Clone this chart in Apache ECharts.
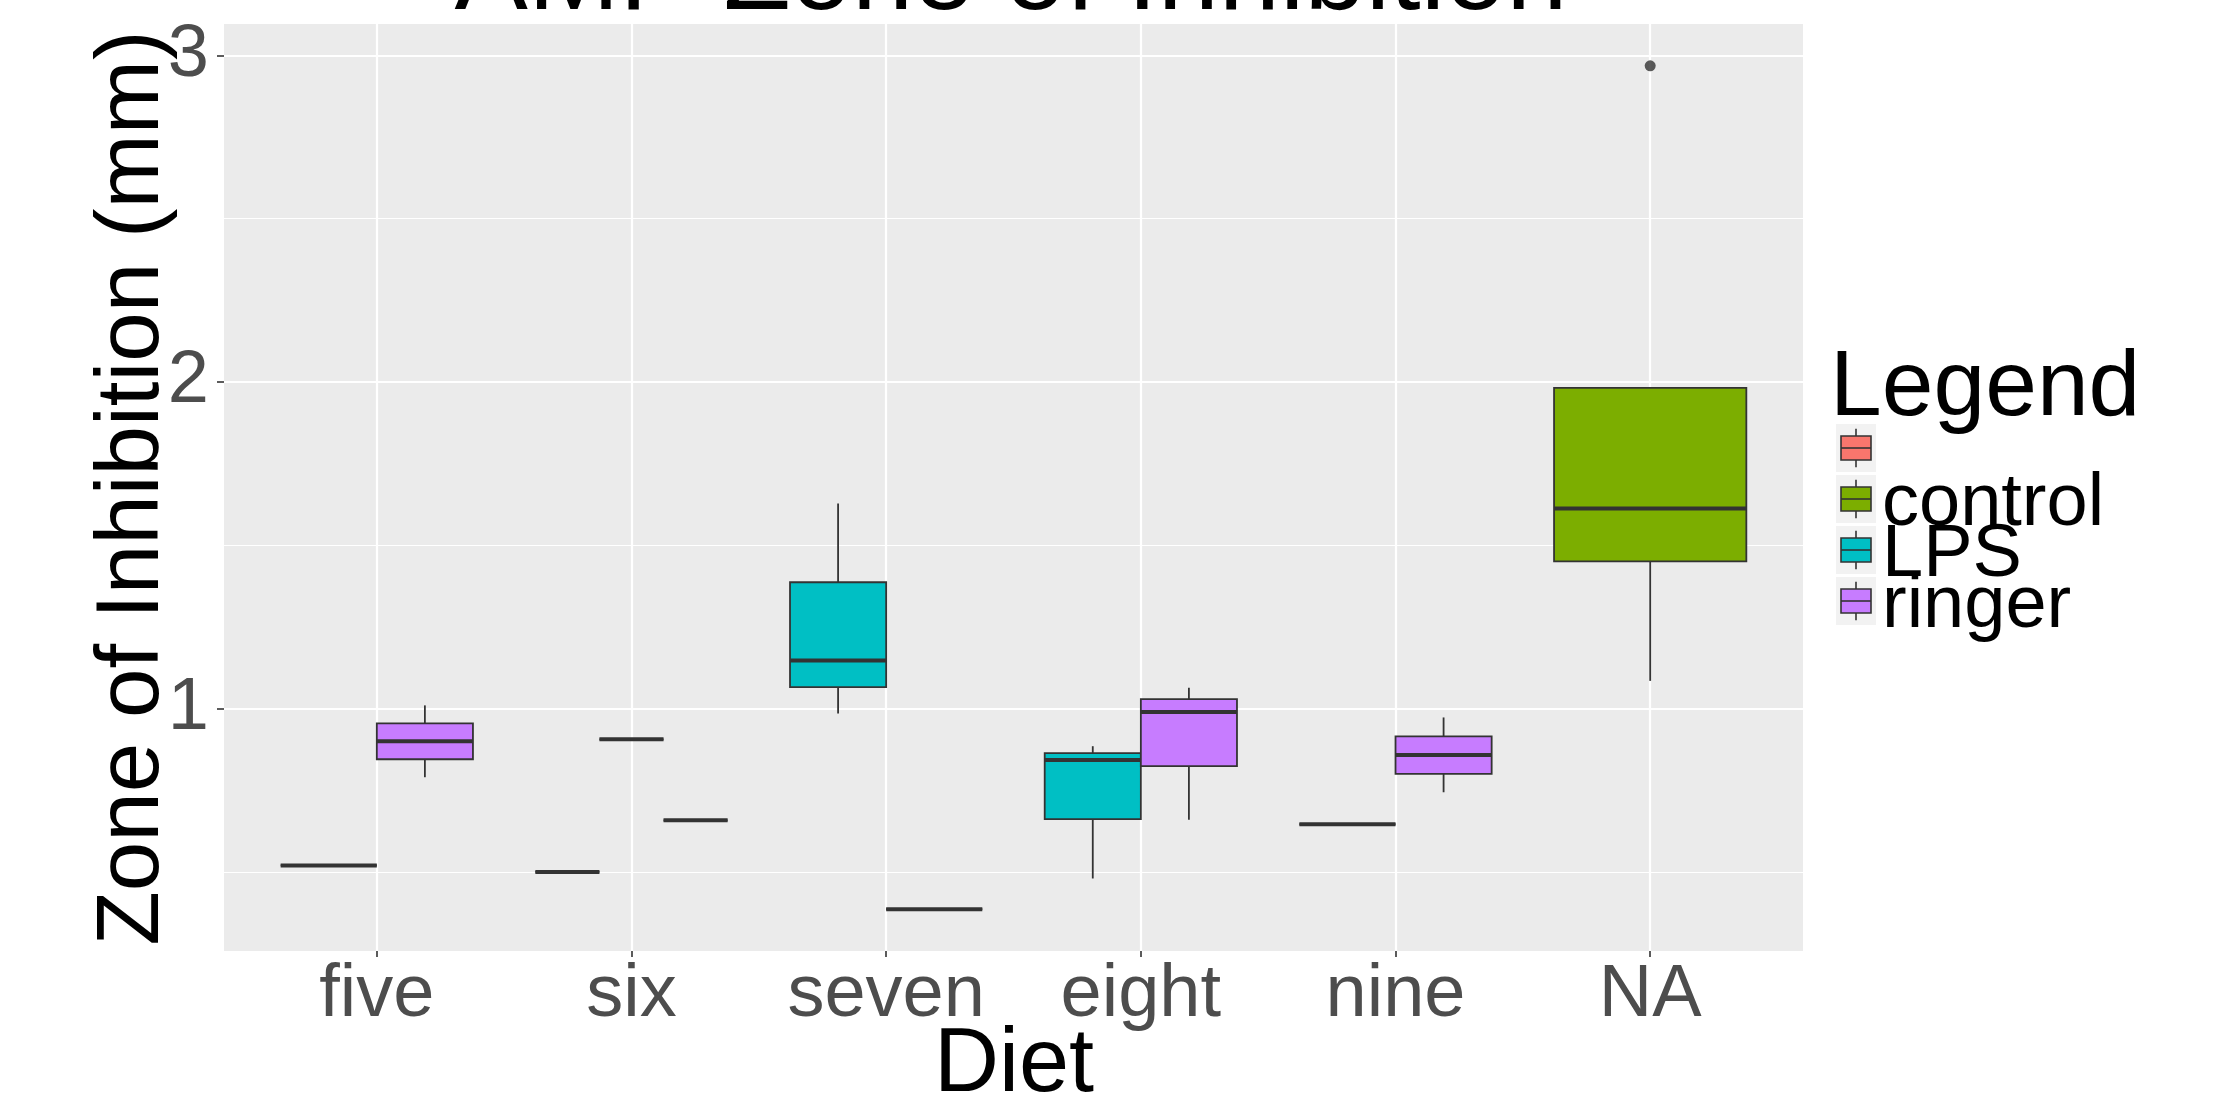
<!DOCTYPE html>
<html>
<head>
<meta charset="utf-8">
<title>AMP Zone of Inhibition</title>
<script src="https://cdn.jsdelivr.net/npm/echarts@6/dist/echarts.min.js"></script>
<style>
  html, body { margin: 0; padding: 0; background: #ffffff; }
  #chart { width: 2218px; height: 1097px; }
</style>
</head>
<body>
<div id="chart"></div>
<script>
// Diet categories on the x axis and treatment groups (fill legend)
const diets = ['five', 'six', 'seven', 'eight', 'nine', 'NA'];
const groups = ['', 'control', 'LPS', 'ringer'];
const groupColors = ['#F8766D', '#7CAE00', '#00BFC4', '#C77CFF'];

// One entry per box: diet, group, and the five-number summary
const boxDiet  = ['five', 'five', 'six', 'six', 'six', 'seven', 'seven', 'eight', 'eight', 'nine', 'nine', 'NA'];
const boxGroup = ['LPS', 'ringer', '', 'LPS', 'ringer', 'LPS', 'ringer', 'LPS', 'ringer', 'LPS', 'ringer', 'control'];
const boxLow    = [0.52, 0.79,  0.50, 0.906, 0.658, 0.985, 0.386, 0.480, 0.660, 0.646, 0.744, 1.085];
const boxQ1     = [0.52, 0.845, 0.50, 0.906, 0.658, 1.066, 0.386, 0.662, 0.824, 0.646, 0.800, 1.451];
const boxMedian = [0.52, 0.900, 0.50, 0.906, 0.658, 1.147, 0.386, 0.843, 0.990, 0.646, 0.858, 1.613];
const boxQ3     = [0.52, 0.955, 0.50, 0.906, 0.658, 1.387, 0.386, 0.864, 1.029, 0.646, 0.915, 1.982];
const boxHigh   = [0.52, 1.010, 0.50, 0.906, 0.658, 1.628, 0.386, 0.885, 1.064, 0.646, 0.973, 1.982];

// Outlying observations
const outDiet  = ['NA'];
const outGroup = ['control'];
const outValue = [2.968];

// Axis ticks
const yMajorTicks = [1, 2, 3];
const yMinorTicks = [0.5, 1.5, 2.5];

// ---- layout / style constants ----
const FONT = "'Liberation Sans', Arial, Helvetica, sans-serif";
const DODGE = 0.755;          // total dodge width, in category units
const X_PAD = 0.6;            // discrete axis expansion on each side
const OUTLINE = '#333333';
const GRID_L = 224, GRID_R = 415, GRID_T = 24, GRID_B = 146;

// Dodge positions: boxes within each diet share the dodge width
function slotInfo(diet, group) {
  const members = [];
  boxDiet.forEach((d, i) => { if (d === diet) members.push(boxGroup[i]); });
  members.sort((a, b) => groups.indexOf(a) - groups.indexOf(b));
  const n = members.length;
  const slot = members.indexOf(group);
  const xi = diets.indexOf(diet);
  const w = DODGE / n;
  return { center: xi - DODGE / 2 + (slot + 0.5) * w, width: w };
}

const boxData = boxDiet.map((d, i) => {
  const s = slotInfo(d, boxGroup[i]);
  return [s.center, s.width, boxLow[i], boxQ1[i], boxMedian[i], boxQ3[i], boxHigh[i], groups.indexOf(boxGroup[i])];
});
const outData = outDiet.map((d, i) => [slotInfo(d, outGroup[i]).center, outValue[i]]);

function renderBox(params, api) {
  const cx = api.value(0), w = api.value(1);
  const low = api.value(2), q1 = api.value(3), med = api.value(4), q3 = api.value(5), high = api.value(6);
  const gi = api.value(7);
  const px = api.coord([cx, 1])[0];
  const pw = api.size([w, 0])[0];
  const y = v => api.coord([cx, v])[1];
  const lineStyle = { stroke: OUTLINE, lineWidth: 1.8 };
  return {
    type: 'group',
    children: [
      { type: 'line', shape: { x1: px, y1: y(high), x2: px, y2: y(q3) }, style: lineStyle },
      { type: 'line', shape: { x1: px, y1: y(q1), x2: px, y2: y(low) }, style: lineStyle },
      { type: 'rect', shape: { x: px - pw / 2, y: y(q3), width: pw, height: y(q1) - y(q3) },
        style: { fill: groupColors[gi], stroke: OUTLINE, lineWidth: 1.8 } },
      { type: 'line', shape: { x1: px - pw / 2, y1: y(med), x2: px + pw / 2, y2: y(med) },
        style: { stroke: OUTLINE, lineWidth: 4 } }
    ]
  };
}

// Legend drawn as ggplot-style keys
const KEY_X = 1836, KEY_Y = 424, KEY_W = 40, KEY_H = 48, KEY_STEP = 51;
const legendElements = [{
  type: 'text', x: 1830, y: 389,
  style: { text: 'Legend', font: '93px ' + FONT, fill: '#000000', align: 'left', verticalAlign: 'middle' }
}];
groups.forEach((g, i) => {
  const top = KEY_Y + i * KEY_STEP;
  const cx = KEY_X + KEY_W / 2;
  legendElements.push(
    { type: 'rect', shape: { x: KEY_X, y: top, width: KEY_W, height: KEY_H }, style: { fill: '#F2F2F2' } },
    { type: 'line', shape: { x1: cx, y1: top + KEY_H * 0.1, x2: cx, y2: top + KEY_H * 0.9 },
      style: { stroke: OUTLINE, lineWidth: 1.6 } },
    { type: 'rect', shape: { x: KEY_X + KEY_W * 0.125, y: top + KEY_H * 0.25, width: KEY_W * 0.75, height: KEY_H * 0.5 },
      style: { fill: groupColors[i], stroke: OUTLINE, lineWidth: 1.6 } },
    { type: 'line', shape: { x1: KEY_X + KEY_W * 0.125, y1: top + KEY_H / 2, x2: KEY_X + KEY_W * 0.875, y2: top + KEY_H / 2 },
      style: { stroke: OUTLINE, lineWidth: 1.6 } },
    { type: 'text', x: 1882, y: top + KEY_H / 2 + 6,
      style: { text: g, font: '74px ' + FONT, fill: '#000000', align: 'left', verticalAlign: 'middle' } }
  );
});

const chart = echarts.init(document.getElementById('chart'), null, { renderer: 'canvas' });
chart.setOption({
  animation: false,
  backgroundColor: '#ffffff',
  grid: {
    left: GRID_L, right: GRID_R, top: GRID_T, bottom: GRID_B,
    show: true, backgroundColor: '#EBEBEB', borderWidth: 0,
    containLabel: false, outerBoundsMode: 'none'
  },
  xAxis: {
    type: 'value', min: -X_PAD, max: diets.length - 1 + X_PAD,
    axisLine: { show: false, onZero: false },
    axisTick: { show: true, length: 6, customValues: diets.map((d, i) => i), lineStyle: { color: OUTLINE, width: 1.6 } },
    axisLabel: {
      show: true, customValues: diets.map((d, i) => i), formatter: v => diets[Math.round(v)],
      margin: 8, color: '#4D4D4D', fontSize: 74, fontFamily: FONT, lineHeight: 74
    },
    splitLine: { show: true, lineStyle: { color: '#FFFFFF', width: 2.2 } }
  },
  yAxis: [{
    type: 'value', min: 0.258, max: 3.096,
    axisLine: { show: false, onZero: false },
    axisTick: { show: true, length: 7, customValues: yMajorTicks, lineStyle: { color: OUTLINE, width: 1.6 } },
    axisLabel: { show: true, customValues: yMajorTicks, margin: 15, color: '#4D4D4D', fontSize: 74, fontFamily: FONT },
    splitLine: { show: true, lineStyle: { color: '#FFFFFF', width: 2.2 } }
  }, {
    type: 'value', min: 0.258, max: 3.096, position: 'left',
    axisLine: { show: false, onZero: false },
    axisTick: { show: false, customValues: yMinorTicks },
    axisLabel: { show: false, customValues: yMinorTicks },
    splitLine: { show: true, lineStyle: { color: '#FFFFFF', width: 1.1 } }
  }],
  series: [{
    type: 'custom',
    renderItem: renderBox,
    data: boxData,
    encode: { x: 0, y: [2, 3, 4, 5, 6] },
    clip: false
  }, {
    type: 'scatter',
    data: outData,
    symbol: 'circle', symbolSize: 11,
    itemStyle: { color: OUTLINE }
  }],
  graphic: [
    { type: 'text', x: 1011, y: -21,
      style: { text: 'AMP Zone of Inhibition', font: '110px ' + FONT, fill: '#000000', align: 'center', verticalAlign: 'middle' } },
    { type: 'text', x: 1014, y: 1066,
      style: { text: 'Diet', font: '90px ' + FONT, fill: '#000000', align: 'center', verticalAlign: 'middle' } },
    { type: 'text', x: 133, y: 488, rotation: Math.PI / 2,
      style: { text: 'Zone of Inhibition (mm)', font: '89px ' + FONT, fill: '#000000', align: 'center', verticalAlign: 'middle' } }
  ].concat(legendElements)
});
</script>
</body>
</html>
